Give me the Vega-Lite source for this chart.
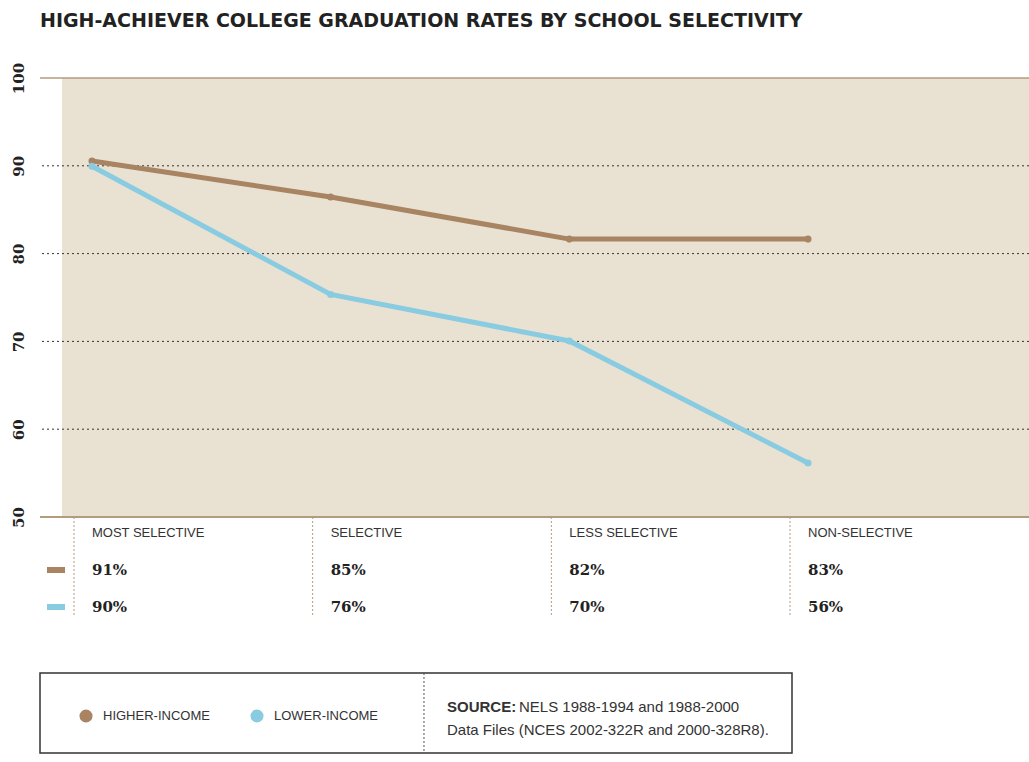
{
  "$schema": "https://vega.github.io/schema/vega-lite/v6.json",
  "padding": {"left": 10, "top": 12, "right": 0, "bottom": 0},
  "background": "white",
  "title": {"text": "HIGH-ACHIEVER COLLEGE GRADUATION RATES BY SCHOOL SELECTIVITY", "anchor": "start", "frame": "group", "font": "DejaVu Sans", "fontSize": 19, "fontWeight": "bold", "color": "#222222", "offset": 31},
  "config": {"view": {"stroke": null}},
  "spacing": 0,
  "bounds": "flush",
  "datasets": {
    "rates": [
      {"category": "MOST SELECTIVE", "group": "HIGHER-INCOME", "value": 90.55, "label": "91%"},
      {"category": "SELECTIVE", "group": "HIGHER-INCOME", "value": 86.45, "label": "85%"},
      {"category": "LESS SELECTIVE", "group": "HIGHER-INCOME", "value": 81.65, "label": "82%"},
      {"category": "NON-SELECTIVE", "group": "HIGHER-INCOME", "value": 81.65, "label": "83%"},
      {"category": "MOST SELECTIVE", "group": "LOWER-INCOME", "value": 89.95, "label": "90%"},
      {"category": "SELECTIVE", "group": "LOWER-INCOME", "value": 75.35, "label": "76%"},
      {"category": "LESS SELECTIVE", "group": "LOWER-INCOME", "value": 70.05, "label": "70%"},
      {"category": "NON-SELECTIVE", "group": "LOWER-INCOME", "value": 56.15, "label": "56%"}
    ]
  },
  "vconcat": [
    {
      "width": 989,
      "height": 439,
      "encoding": {
        "x": {"field": "category", "type": "nominal", "scale": {"type": "point", "padding": 0, "domain": ["MOST SELECTIVE", "SELECTIVE", "LESS SELECTIVE", "NON-SELECTIVE"], "range": [52, 768]}, "axis": null}
      },
      "layer": [
        {
          "data": {"values": [{}]},
          "mark": {"type": "rect", "color": "#e9e2d3", "xOffset": -30, "x2Offset": 221},
          "encoding": {
            "x": {"datum": "MOST SELECTIVE", "type": "nominal"},
            "x2": {"datum": "NON-SELECTIVE"},
            "y": {"datum": 50, "type": "quantitative", "scale": {"domain": [50, 100], "nice": false, "zero": false}},
            "y2": {"datum": 100}
          }
        },
        {
          "data": {"values": [{"v": 60}, {"v": 70}, {"v": 80}, {"v": 90}]},
          "mark": {"type": "rule", "color": "#333333", "strokeDash": [2, 3], "strokeWidth": 1},
          "encoding": {"x": null, "y": {"field": "v", "type": "quantitative"}}
        },
        {
          "data": {"values": [{}]},
          "mark": {"type": "rule", "color": "#b39b7e", "strokeWidth": 1.5},
          "encoding": {"x": null, "y": {"datum": 100, "type": "quantitative"}}
        },
        {
          "data": {"values": [{}]},
          "mark": {"type": "rule", "color": "#b39b7e", "strokeWidth": 2},
          "encoding": {"x": null, "y": {"datum": 50, "type": "quantitative"}}
        },
        {
          "data": {"name": "rates"},
          "mark": {"type": "line", "strokeWidth": 5, "point": {"filled": true, "size": 50}},
          "encoding": {
            "y": {"field": "value", "type": "quantitative", "scale": {"domain": [50, 100], "nice": false, "zero": false},
              "axis": {"title": null, "values": [50, 60, 70, 80, 90, 100], "grid": false, "ticks": false, "domain": false, "labelAngle": 270, "labelAlign": "center", "labelBaseline": "alphabetic", "labelPadding": 17, "labelFont": "DejaVu Serif", "labelFontSize": 15, "labelFontWeight": "bold", "labelColor": "#222222"}},
            "color": {"field": "group", "type": "nominal", "scale": {"domain": ["HIGHER-INCOME", "LOWER-INCOME"], "range": ["#a88462", "#89cbe0"]}, "legend": null}
          }
        }
      ]
    },
    {
      "width": 989,
      "height": 156,
      "data": {"name": "rates"},
      "encoding": {
        "x": {"field": "category", "type": "nominal", "scale": {"type": "point", "padding": 0, "domain": ["MOST SELECTIVE", "SELECTIVE", "LESS SELECTIVE", "NON-SELECTIVE"], "range": [52, 768]}, "axis": null}
      },
      "layer": [
        {
          "transform": [{"filter": "datum.group === 'HIGHER-INCOME'"}],
          "mark": {"type": "rule", "color": "#b39b7e", "strokeDash": [2, 2], "strokeWidth": 1, "xOffset": -18, "yOffset": -16, "y2Offset": 10},
          "encoding": {
            "y": {"datum": "header", "type": "nominal", "scale": {"type": "point", "padding": 0, "domain": ["header", "HIGHER-INCOME", "LOWER-INCOME"], "range": [16, 90]}, "axis": null},
            "y2": {"datum": "LOWER-INCOME"}
          }
        },
        {
          "transform": [{"filter": "datum.group === 'HIGHER-INCOME'"}],
          "mark": {"type": "text", "align": "left", "baseline": "middle", "font": "Liberation Sans", "fontSize": 13, "color": "#333333"},
          "encoding": {
            "y": {"datum": "header", "type": "nominal"},
            "text": {"field": "category"}
          }
        },
        {
          "mark": {"type": "text", "align": "left", "baseline": "middle", "font": "DejaVu Serif", "fontSize": 15, "fontWeight": "bold", "color": "#222222"},
          "encoding": {
            "y": {"field": "group", "type": "nominal"},
            "text": {"field": "label"}
          }
        },
        {
          "transform": [{"filter": "datum.category === 'MOST SELECTIVE'"}],
          "mark": {"type": "tick", "orient": "horizontal", "size": 18, "thickness": 6, "xOffset": -36, "opacity": 1},
          "encoding": {
            "y": {"field": "group", "type": "nominal"},
            "color": {"field": "group", "type": "nominal", "legend": null}
          }
        }
      ]
    },
    {
      "width": 752,
      "height": 80,
      "view": {"stroke": "#333333", "strokeWidth": 1.5},
      "layer": [
        {
          "data": {"name": "rates"},
          "transform": [{"filter": "datum.category === 'MOST SELECTIVE'"}],
          "mark": {"type": "point", "filled": true, "size": 170, "opacity": 1, "yOffset": 3},
          "encoding": {
            "x": {"field": "group", "type": "nominal", "scale": {"type": "point", "padding": 0, "domain": ["HIGHER-INCOME", "LOWER-INCOME"], "range": [46, 217]}, "axis": null},
            "color": {"field": "group", "type": "nominal", "legend": null}
          }
        },
        {
          "data": {"name": "rates"},
          "transform": [{"filter": "datum.category === 'MOST SELECTIVE'"}],
          "mark": {"type": "text", "align": "left", "baseline": "middle", "dx": 17, "yOffset": 3, "font": "Liberation Sans", "fontSize": 13, "color": "#333333"},
          "encoding": {
            "x": {"field": "group", "type": "nominal", "scale": {"type": "point", "padding": 0, "domain": ["HIGHER-INCOME", "LOWER-INCOME"], "range": [46, 217]}, "axis": null},
            "text": {"field": "group"}
          }
        },
        {
          "data": {"values": [{}]},
          "mark": {"type": "rule", "color": "#555555", "strokeDash": [2, 2], "strokeWidth": 1},
          "encoding": {
            "x": {"datum": 0.5106, "type": "quantitative", "scale": {"domain": [0, 1]}, "axis": null}
          }
        },
        {
          "data": {"values": [{}]},
          "mark": {"type": "text", "align": "left", "baseline": "middle", "yOffset": -6, "font": "Liberation Sans", "fontSize": 15, "fontWeight": "bold", "color": "#333333", "text": "SOURCE:"},
          "encoding": {
            "x": {"datum": 0.5412, "type": "quantitative", "scale": {"domain": [0, 1]}, "axis": null}
          }
        },
        {
          "data": {"values": [{}]},
          "mark": {"type": "text", "align": "left", "baseline": "middle", "yOffset": -6, "dx": 72, "font": "Liberation Sans", "fontSize": 15, "color": "#333333", "text": "NELS 1988-1994 and 1988-2000"},
          "encoding": {
            "x": {"datum": 0.5412, "type": "quantitative", "scale": {"domain": [0, 1]}, "axis": null}
          }
        },
        {
          "data": {"values": [{}]},
          "mark": {"type": "text", "align": "left", "baseline": "middle", "yOffset": 17, "font": "Liberation Sans", "fontSize": 15, "color": "#333333", "text": "Data Files (NCES 2002-322R and 2000-328R8)."},
          "encoding": {
            "x": {"datum": 0.5412, "type": "quantitative", "scale": {"domain": [0, 1]}, "axis": null}
          }
        }
      ],
      "resolve": {"scale": {"x": "independent"}}
    }
  ]
}
